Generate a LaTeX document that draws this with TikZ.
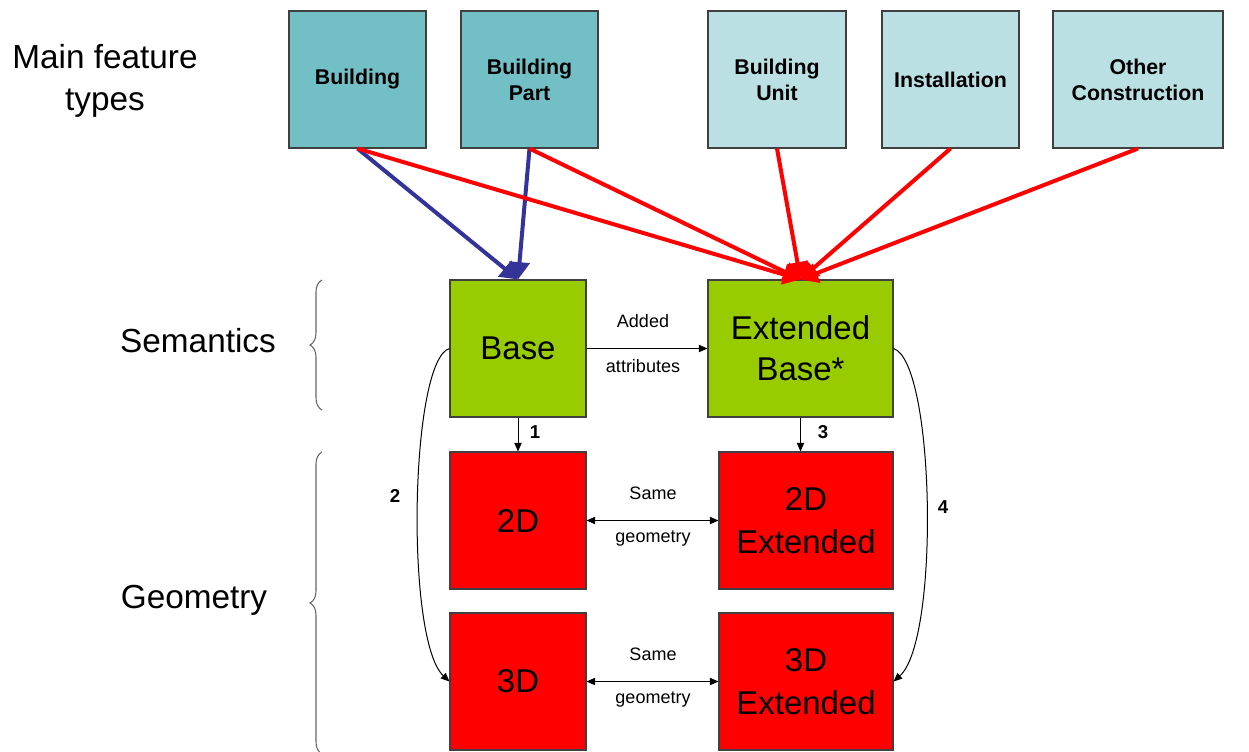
\documentclass[tikz,border=0pt]{standalone}
\usepackage{fontspec}
\setmainfont{Liberation Sans}
\usetikzlibrary{arrows.meta,decorations.pathreplacing}
\definecolor{tealdark}{RGB}{114,191,197}
\definecolor{teallight}{RGB}{187,224,227}
\definecolor{sgreen}{RGB}{153,204,0}
\definecolor{gred}{RGB}{255,0,0}
\definecolor{bdr}{RGB}{64,64,64}
\definecolor{bluearr}{RGB}{51,51,153}
\begin{document}
\begin{tikzpicture}[x=0.75pt,y=-0.75pt,
  box/.style={draw=bdr,line width=0.8pt,inner sep=0pt,align=center,minimum height=102.75pt},
  topbox/.style={box,font=\fontsize{16}{19.5}\selectfont\bfseries},
  sembox/.style={box,fill=sgreen,font=\fontsize{24.7}{31}\selectfont},
  geobox/.style={box,fill=gred,font=\fontsize{24.7}{32}\selectfont},
  bigtext/.style={font=\fontsize{25}{31.5}\selectfont,align=center},
  smalltext/.style={font=\fontsize{13.5}{16}\selectfont},
  numlabel/.style={font=\fontsize{14}{16}\selectfont\bfseries},
  thickblue/.style={draw=bluearr,line width=3pt,-{Triangle[length=13pt,width=15pt]}},
  thickred/.style={draw=gred,line width=3pt,-{Triangle[length=13pt,width=15pt]}},
  thin/.style={draw=black,line width=0.75pt,-{Triangle[length=6.5pt,width=5.5pt]}},
  thinboth/.style={draw=black,line width=0.75pt,{Triangle[length=6.5pt,width=5.5pt]}-{Triangle[length=6.5pt,width=5.5pt]}},
  bracestyle/.style={draw=gray!80!black,line width=0.8pt,decorate,decoration={brace,amplitude=9pt}}
]
\useasboundingbox (0,0) rectangle (1249,751);

% top boxes
\node[topbox,fill=tealdark,minimum width=102.75pt] (bld) at (357.5,79.5) {Building};
\node[topbox,fill=tealdark,minimum width=102.75pt] (bpart) at (529.5,79.5) {Building\\Part};
\node[topbox,fill=teallight,minimum width=103.5pt] (bunit) at (777,79.5) {Building\\Unit};
\node[topbox,fill=teallight,minimum width=102.75pt] (inst) at (950.5,79.5) {Installation};
\node[topbox,fill=teallight,minimum width=127.5pt] (other) at (1138,79.5) {Other\\Construction};

% semantic boxes
\node[sembox,minimum width=102pt] (base) at (518,348.5) {Base};
\node[sembox,minimum width=138.75pt] (ext) at (800.5,348.5) {Extended\\Base*};

% geometry boxes
\node[geobox,minimum width=102pt] (d2) at (518,520.5) {2D};
\node[geobox,minimum width=130.5pt] (d2e) at (806,520.5) {2D\\Extended};
\node[geobox,minimum width=102pt] (d3) at (518,681.5) {3D};
\node[geobox,minimum width=130.5pt] (d3e) at (806,681.5) {3D\\Extended};

% left labels
\node[bigtext] (mft) at (105,81) {Main feature\\types};
\node[bigtext] (sem) at (198,341) {Semantics};
\node[bigtext] (geo) at (194,600) {Geometry};

% braces
\coordinate (sb1) at (322,410);
\coordinate (sb2) at (322,280);
\coordinate (gb1) at (322,754);
\coordinate (gb2) at (322,452);
\draw[bracestyle] (sb1) -- (sb2);
\draw[bracestyle] (gb1) -- (gb2);

% thick arrows
\draw[thickblue] (bld.south) -- (base.north);
\draw[thickblue] (bpart.south) -- (base.north);
\draw[thickred] (bld.south) -- (ext.north);
\draw[thickred] (bpart.south) -- (ext.north);
\draw[thickred] (bunit.south) -- (ext.north);
\draw[thickred] (inst.south) -- (ext.north);
\draw[thickred] (other.south) -- (ext.north);

% thin arrows
\draw[thin] (base.east) -- (ext.west);
\node[smalltext] (added) at (643,321) {Added};
\node[smalltext] (attr) at (643,366) {attributes};

\draw[thin] (base.south) -- (d2.north);
\node[numlabel] (n1) at (535,432) {1};
\draw[thin] (ext.south) -- (ext.south |- d2e.north);
\node[numlabel] (n3) at (823,432) {3};

\draw[thinboth] (d2.east) -- (d2e.west);
\node[smalltext] (same1) at (653,493) {Same};
\node[smalltext] (geom1) at (653,539) {geometry};
\draw[thinboth] (d3.east) -- (d3e.west);
\node[smalltext] (same2) at (653,654) {Same};
\node[smalltext] (geom2) at (653,700) {geometry};

% curved arrows
\draw[thin] (base.west) .. controls (410,360) and (405,640) .. (d3.west);
\node[numlabel] (n2) at (395,496) {2};
\draw[thin] (ext.east) .. controls (935,362) and (940,640) .. (d3e.east);
\node[numlabel] (n4) at (943,507) {4};
\end{tikzpicture}
\end{document}
